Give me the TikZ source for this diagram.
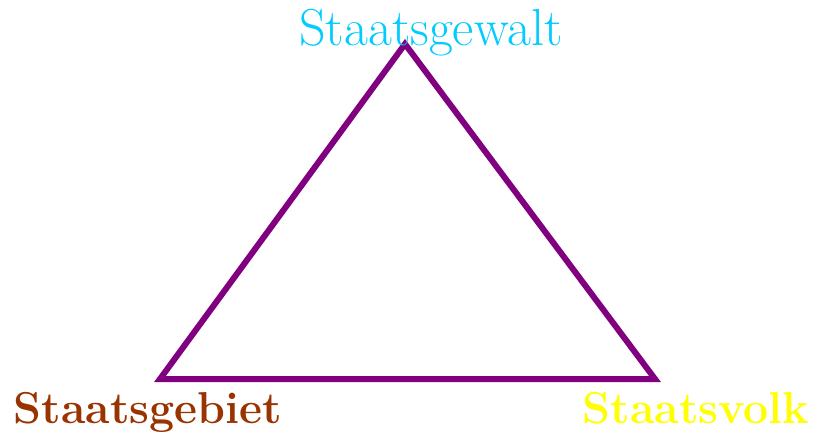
\documentclass[tikz,border=0pt]{standalone}
\usepackage{tikz}
\usetikzlibrary{positioning}

\definecolor{gewaltcyan}{RGB}{0,204,255}
\definecolor{gebietbrown}{RGB}{153,51,0}
\definecolor{volkyellow}{RGB}{255,255,0}
\definecolor{dreieckpurple}{RGB}{128,0,128}

\begin{document}
\begin{tikzpicture}[x=0.75pt, y=0.75pt]
  \tikzset{
    term/.style={anchor=base, inner sep=0pt, font=\fontsize{39}{42}\selectfont},
    boldterm/.style={term, font=\fontsize{33.5}{38}\selectfont\bfseries},
    side/.style={draw=dreieckpurple, line width=4.5pt, line join=miter}
  }
  \useasboundingbox (0,0) rectangle (815,437);

  \coordinate (top) at (405,393);
  \coordinate (left) at (160,58);
  \coordinate (right) at (655,58);

  \draw[side] (top) -- (right) -- (left) -- cycle;

  \node[term, text=gewaltcyan] (gewalt) at (431,392) {Staatsgewalt};
  \node[boldterm, text=gebietbrown] (gebiet) at (148,14) {Staatsgebiet};
  \node[boldterm, text=volkyellow] (volk) at (696,14) {Staatsvolk};
\end{tikzpicture}
\end{document}
